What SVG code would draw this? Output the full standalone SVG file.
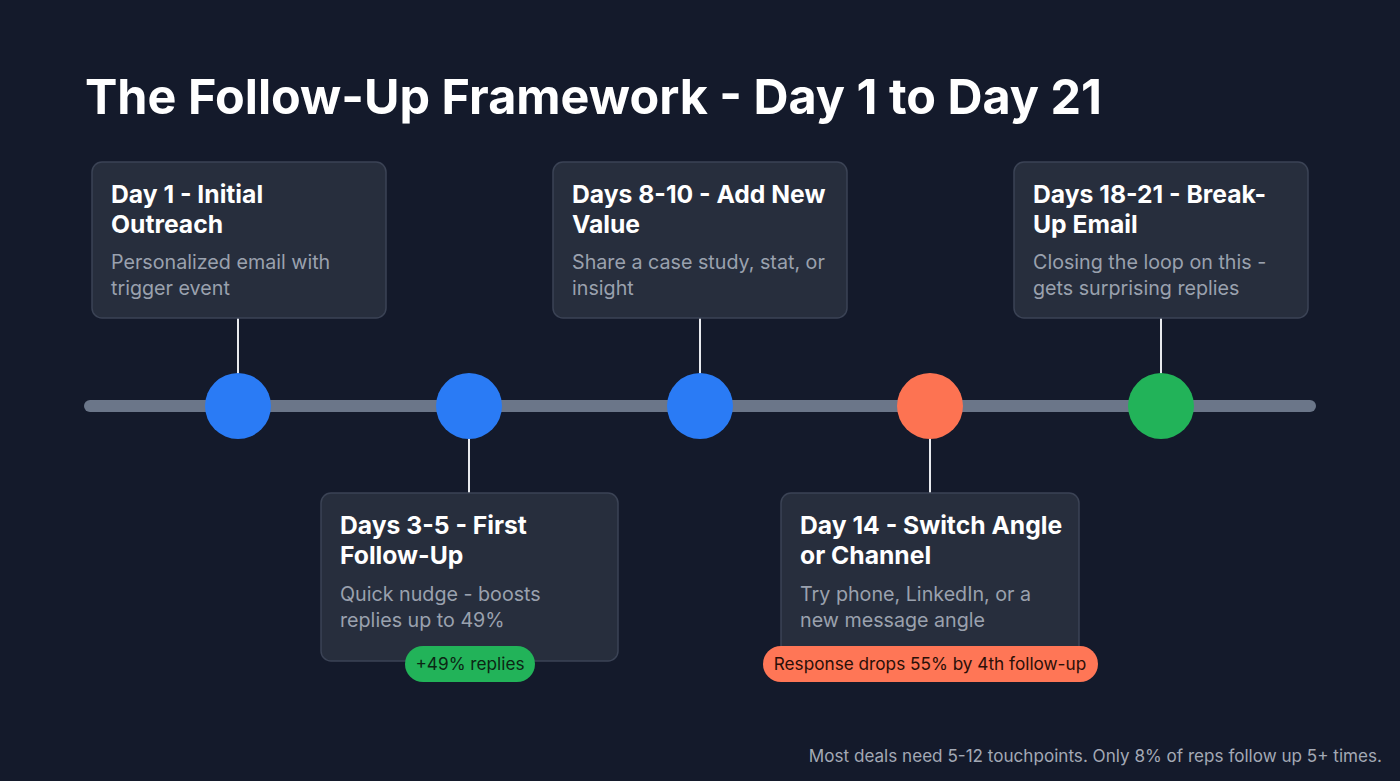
<svg xmlns="http://www.w3.org/2000/svg" width="1400" height="781" viewBox="0 0 1400 781">
<style>
.bg{fill:#141a2b}
.card{fill:#272e3d;stroke:#3b4355;stroke-width:1.5}
.ct{font-family:Inter,"Liberation Sans",sans-serif;font-weight:700;font-size:24.7px;fill:#ffffff}
.cd{font-family:Inter,"Liberation Sans",sans-serif;font-size:19.7px;fill:#9aa1ae}
.conn{stroke:#e8eaee;stroke-width:2}
.badge{font-family:Inter,"Liberation Sans",sans-serif;font-size:17.2px;text-anchor:middle}
</style>
<rect class="bg" x="0" y="0" width="1400" height="781"/>
<text x="85" y="114" font-family="Inter,'Liberation Sans',sans-serif" font-weight="700" font-size="48.5" fill="#ffffff">The Follow-Up Framework - Day 1 to Day 21</text>
<g id="connectors">
<line x1="90" y1="406" x2="1310" y2="406" stroke="#6b7689" stroke-width="12" stroke-linecap="round"/>
<line class="conn" x1="238" y1="318" x2="238" y2="375"/>
<line class="conn" x1="469" y1="438" x2="469" y2="493"/>
<line class="conn" x1="700" y1="318" x2="700" y2="375"/>
<line class="conn" x1="930" y1="438" x2="930" y2="493"/>
<line class="conn" x1="1161" y1="318" x2="1161" y2="375"/>
</g>
<g id="dot1"><circle cx="238" cy="406" r="33" fill="#2a7bf5"/></g>
<g id="dot2"><circle cx="469" cy="406" r="33" fill="#2a7bf5"/></g>
<g id="dot3"><circle cx="700" cy="406" r="33" fill="#2a7bf5"/></g>
<g id="dot4"><circle cx="930" cy="406" r="33" fill="#fd7352"/></g>
<g id="dot5"><circle cx="1161" cy="406" r="33" fill="#22b359"/></g>
<g id="card1">
<rect class="card" x="92" y="162" width="294" height="156" rx="10"/>
<text class="ct" x="111" y="203">Day 1 - Initial</text>
<text class="ct" x="111" y="233">Outreach</text>
<text class="cd" x="111" y="269">Personalized email with</text>
<text class="cd" x="111" y="295">trigger event</text>
</g>
<g id="card2">
<rect class="card" x="321" y="493" width="297" height="168" rx="10"/>
<text class="ct" x="340" y="534">Days 3-5 - First</text>
<text class="ct" x="340" y="564">Follow-Up</text>
<text class="cd" x="340" y="601">Quick nudge - boosts</text>
<text class="cd" x="340" y="627">replies up to 49%</text>
</g>
<g id="card3">
<rect class="card" x="553" y="162" width="294" height="156" rx="10"/>
<text class="ct" x="572" y="203">Days 8-10 - Add New</text>
<text class="ct" x="572" y="233">Value</text>
<text class="cd" x="572" y="269">Share a case study, stat, or</text>
<text class="cd" x="572" y="295">insight</text>
</g>
<g id="card4">
<rect class="card" x="781" y="493" width="298" height="168" rx="10"/>
<text class="ct" x="800" y="534">Day 14 - Switch Angle</text>
<text class="ct" x="800" y="564">or Channel</text>
<text class="cd" x="800" y="601">Try phone, LinkedIn, or a</text>
<text class="cd" x="800" y="627">new message angle</text>
</g>
<g id="card5">
<rect class="card" x="1014" y="162" width="294" height="156" rx="10"/>
<text class="ct" x="1033" y="203">Days 18-21 - Break-</text>
<text class="ct" x="1033" y="233">Up Email</text>
<text class="cd" x="1033" y="269">Closing the loop on this -</text>
<text class="cd" x="1033" y="295">gets surprising replies</text>
</g>
<g id="badge1">
<rect x="405" y="646" width="130" height="36" rx="18" fill="#22b359"/>
<text class="badge" x="470" y="670" fill="#0c2614">+49% replies</text>
</g>
<g id="badge2">
<rect x="763" y="646" width="335" height="36" rx="18" fill="#ff7656"/>
<text class="badge" x="930" y="670" fill="#2a0f08">Response drops 55% by 4th follow-up</text>
</g>
<text x="1382" y="762" text-anchor="end" font-family="Inter,'Liberation Sans',sans-serif" font-size="17.1" fill="#a3a9b5">Most deals need 5-12 touchpoints. Only 8% of reps follow up 5+ times.</text>
</svg>
